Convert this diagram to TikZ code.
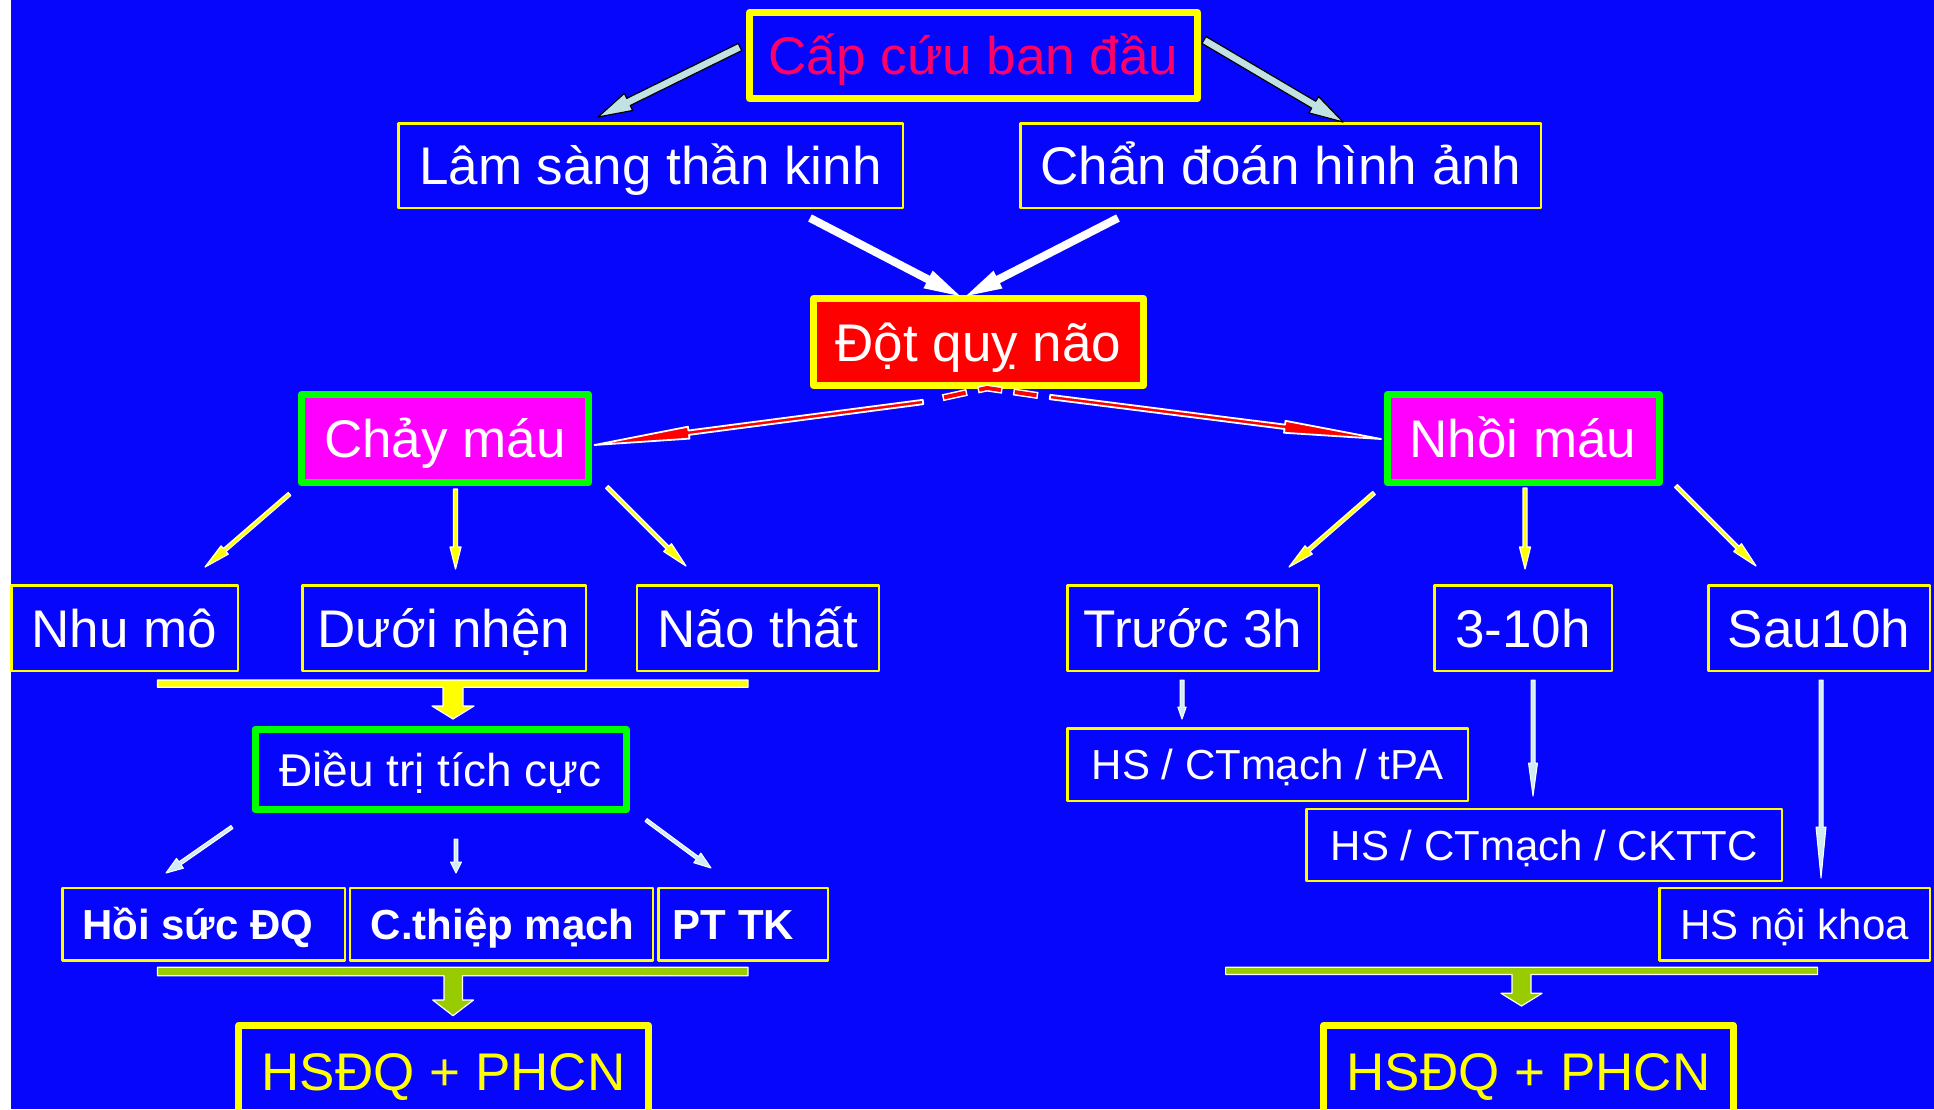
\documentclass[tikz,border=0pt]{standalone}
\usepackage{fontspec}
\setmainfont{Liberation Sans}
\usetikzlibrary{calc}
\definecolor{bgblue}{RGB}{6,6,252}
\definecolor{capred}{RGB}{255,0,102}
\definecolor{arrcyan}{RGB}{192,226,226}
\definecolor{lcyan}{RGB}{208,236,240}
\definecolor{ygreen}{RGB}{153,204,0}
\definecolor{pyellow}{RGB}{255,255,0}
\definecolor{pmagenta}{RGB}{255,0,255}
\definecolor{pgreen}{RGB}{0,255,0}
\definecolor{pred}{RGB}{255,0,0}
\newcommand{\fsz}[1]{\fontsize{#1}{#1}\selectfont}
\newcommand{\barr}[6]{%
  \path ($(#3)!#6!(#2)$) coordinate (bh);
  \path[#1] ($(#2)!#4!90:(#3)$) -- ($(bh)!#4!-90:(#2)$) -- ($(bh)!#5!-90:(#2)$) -- (#3) -- ($(bh)!#5!90:(#2)$) -- ($(bh)!#4!90:(#2)$) -- ($(#2)!#4!-90:(#3)$) -- cycle;}
\tikzset{
  box/.style={inner sep=0pt, text depth=0pt, text=white},
  bigtxt/.style={font=\fsz{53}, text height=38pt},
  medtxt/.style={font=\fsz{46}, text height=33pt},
  smltxt/.style={font=\fsz{42}, text height=30pt},
  boldtxt/.style={font=\bfseries\fsz{42}, text height=30pt},
  thinY/.style={draw=pyellow, line width=2.5pt},
  thickY/.style={draw=pyellow, line width=7pt},
  thickG/.style={draw=pgreen, line width=7pt},
  cyanarr/.style={fill=arrcyan, draw=black, line width=1.2pt},
  whitearr/.style={fill=white},
  redarr/.style={fill=pred, draw=white, line width=1.8pt},
  yelarr/.style={fill=pyellow, draw=white, line width=1.2pt},
  lcarr/.style={fill=lcyan, draw=white, line width=1pt},
  bararr/.style={draw=white, line width=1.2pt},
}
\begin{document}
\begin{tikzpicture}[x=1pt,y=-1pt,line join=round]
\clip (0,0) rectangle (1934,1109);
\fill[white] (0,0) rectangle (1934,1109);
\fill[bgblue] (11,0) rectangle (1934,1109);

% boxes
\node[box,bigtxt,thickY,text=capred,minimum width=448pt,minimum height=86pt] (cap) at (973.5,55.5) {Cấp cứu ban đầu};
\node[box,bigtxt,thinY,minimum width=504.5pt,minimum height=84.5pt] (lam) at (650.5,165.5) {Lâm sàng thần kinh};
\node[box,bigtxt,thinY,minimum width=520.5pt,minimum height=84.5pt] (chan) at (1280.5,165.5) {Chẩn đoán hình ảnh};
\node[box,bigtxt,thickY,fill=pred,minimum width=330pt,minimum height=87pt] (dq) at (978.5,342) {Đột quỵ não};
\node[box,bigtxt,thickG,fill=pmagenta,minimum width=287pt,minimum height=88pt] (chay) at (445,438.5) {Chảy máu};
\node[box,bigtxt,thickG,fill=pmagenta,minimum width=272pt,minimum height=88pt] (nhoi) at (1523,438.5) {Nhồi máu};

\node[box,bigtxt,thinY,minimum width=226.5pt,minimum height=85.5pt] (nhu) at (124.5,628) {Nhu mô};
\node[box,bigtxt,thinY,minimum width=283.5pt,minimum height=85.5pt] (duoi) at (444,628) {Dưới nhện};
\node[box,bigtxt,thinY,minimum width=242pt,minimum height=85.5pt] (naot) at (757.75,628) {Não thất};
\node[box,bigtxt,thinY,minimum width=251.5pt,minimum height=85.5pt] (truoc) at (1193,628) {Trước 3h};
\node[box,bigtxt,thinY,minimum width=177.5pt,minimum height=85.5pt] (h310) at (1523,628) {3-10h};
\node[box,bigtxt,thinY,minimum width=221.5pt,minimum height=85.5pt] (sau) at (1819,628) {Sau10h};

\node[box,medtxt,thickG,minimum width=371pt,minimum height=80.5pt] (dieu) at (440.5,769.5) {Điều trị tích cực};
\node[box,boldtxt,thinY,minimum width=282.5pt,minimum height=72.5pt] (hoi) at (203.7,924.4) {Hồi sức ĐQ\kern 12pt};
\node[box,boldtxt,thinY,minimum width=303pt,minimum height=72.5pt] (cthiep) at (501.7,924.4) {\kern 2pt C.thiệp mạch};
\node[box,boldtxt,thinY,minimum width=169.5pt,minimum height=72.5pt] (pttk) at (743.4,924.4) {PT TK\kern 20pt};
\node[box,bigtxt,thickY,text=pyellow,minimum width=409.5pt,minimum height=91pt] (hsdqL) at (443.5,1071) {HSĐQ + PHCN};
\node[box,bigtxt,thickY,text=pyellow,minimum width=409.5pt,minimum height=91pt] (hsdqR) at (1528.5,1071) {HSĐQ + PHCN};

\node[box,smltxt,thinY,minimum width=400.5pt,minimum height=72.5pt] (tpa) at (1267.5,764.5) {HS / CTmạch / tPA};
\node[box,smltxt,thinY,minimum width=475.2pt,minimum height=72.1pt] (cktc) at (1544.3,845) {HS / CTmạch / CKTTC};
\node[box,smltxt,thinY,minimum width=270.5pt,minimum height=72.5pt] (noik) at (1794.5,924.4) {HS nội khoa};

% top cyan arrows
\coordinate (c1a) at (740,47); \coordinate (c1b) at (598,117);
\barr{cyanarr}{c1a}{c1b}{4pt}{9.5pt}{34pt}
\coordinate (c2a) at (1204,40); \coordinate (c2b) at (1343,122);
\barr{cyanarr}{c2a}{c2b}{4pt}{9.5pt}{34pt}

% white arrows to Dot quy
\coordinate (w1a) at (810,218); \coordinate (w1b) at (960,296);
\barr{whitearr}{w1a}{w1b}{4pt}{10pt}{36pt}
\coordinate (w2a) at (1118,218); \coordinate (w2b) at (966,296);
\barr{whitearr}{w2a}{w2b}{4pt}{10pt}{36pt}

% red arrows
\coordinate (rdR) at (1038,395.5); \coordinate (rdA) at (987,388); \coordinate (rdL) at (932,400);
\draw[white,line width=7pt,dash pattern=on 25pt off 11pt] (rdR) -- (rdA) -- (rdL);
\draw[pred,line width=4pt,dash pattern=on 22pt off 14pt,dash phase=34.5pt] (rdR) -- (rdA) -- (rdL);
\coordinate (rsL) at (923,402); \coordinate (rtL) at ($(chay.east)+(2.5,6.5)$);
\barr{redarr}{rsL}{rtL}{2.2pt}{6pt}{95pt}
\coordinate (rsR) at (1050,397); \coordinate (rtR) at ($(nhoi.west)+(-2.5,0.5)$);
\barr{redarr}{rsR}{rtR}{2.2pt}{6pt}{97pt}

% yellow arrows
\coordinate (y1a) at (289.5,494); \coordinate (y1b) at (205,567);
\barr{yelarr}{y1a}{y1b}{2pt}{5.5pt}{26pt}
\coordinate (y2a) at (455.5,489); \coordinate (y2b) at (455.5,569);
\barr{yelarr}{y2a}{y2b}{2pt}{5.5pt}{22pt}
\coordinate (y3a) at (607,487); \coordinate (y3b) at (686,566);
\barr{yelarr}{y3a}{y3b}{2pt}{5.5pt}{26pt}
\coordinate (y4a) at (1374,493); \coordinate (y4b) at (1289,567);
\barr{yelarr}{y4a}{y4b}{2pt}{5.5pt}{26pt}
\coordinate (y5a) at (1525,488); \coordinate (y5b) at (1525,569);
\barr{yelarr}{y5a}{y5b}{2pt}{5.5pt}{22pt}
\coordinate (y6a) at (1676,486); \coordinate (y6b) at (1756,566);
\barr{yelarr}{y6a}{y6b}{2pt}{5.5pt}{26pt}

% light cyan arrows from Dieu tri
\coordinate (s1a) at (232,827); \coordinate (s1b) at (166,873);
\barr{lcarr}{s1a}{s1b}{1.8pt}{6pt}{17pt}
\coordinate (s2a) at (456,839); \coordinate (s2b) at (456,873);
\barr{lcarr}{s2a}{s2b}{1.8pt}{5.5pt}{11pt}
\coordinate (s3a) at (646,820); \coordinate (s3b) at (711,868);
\barr{lcarr}{s3a}{s3b}{1.8pt}{6pt}{17pt}

% thin arrows right
\coordinate (t1a) at (1182,680); \coordinate (t1b) at (1182,719);
\barr{lcarr}{t1a}{t1b}{2pt}{4.2pt}{12pt}
\coordinate (t2a) at (1533,680); \coordinate (t2b) at (1533,796);
\barr{lcarr}{t2a}{t2b}{2pt}{4.5pt}{33pt}
\coordinate (t3a) at (1821,680); \coordinate (t3b) at (1821,878);
\barr{lcarr}{t3a}{t3b}{2pt}{5pt}{51pt}

% merge bars with block arrows
\path[bararr,fill=pyellow] (157.5,680) -- (748,680) -- (748,687.3) -- (463,687.3) -- (463,706) -- (474,706) -- (453,719) -- (432,706) -- (443,706) -- (443,687.3) -- (157.5,687.3) -- cycle;
\path[bararr,fill=ygreen] (157.5,967.3) -- (748,967.3) -- (748,975.7) -- (462.4,975.7) -- (462.4,1000) -- (473.5,1000) -- (453,1015.7) -- (432.7,1000) -- (444,1000) -- (444,975.7) -- (157.5,975.7) -- cycle;
\path[bararr,fill=ygreen] (1225.6,967.3) -- (1817.6,967.3) -- (1817.6,974.5) -- (1531,974.5) -- (1531,993.3) -- (1542,993.3) -- (1521.5,1006) -- (1501,993.3) -- (1512,993.3) -- (1512,974.5) -- (1225.6,974.5) -- cycle;
\end{tikzpicture}
\end{document}
